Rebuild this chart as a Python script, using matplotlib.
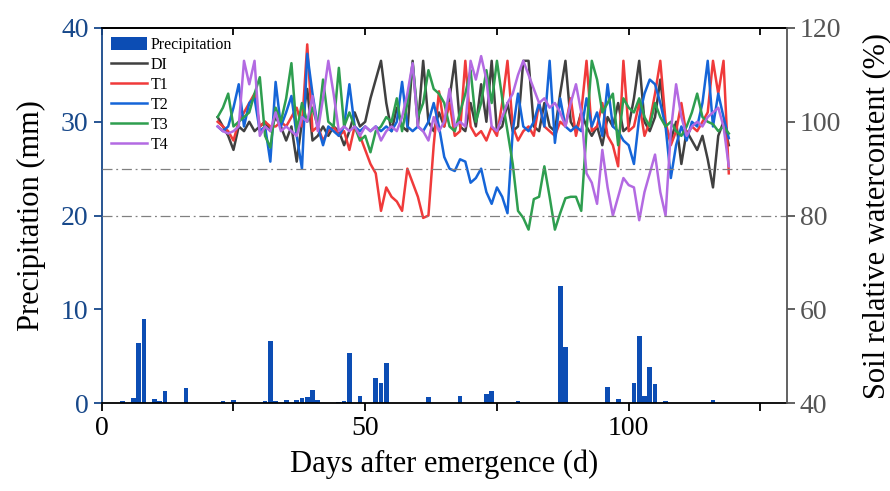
import numpy as np
import matplotlib
matplotlib.use('Agg')
import matplotlib.pyplot as plt

plt.rcParams['font.family'] = ['Liberation Serif', 'DejaVu Serif']

# precipitation bars (mm)
rain_days = [4, 6, 7, 8, 10, 11, 12, 16,
             23, 25, 31, 32, 33, 35, 37, 38, 39, 40, 41,
             45, 46, 47, 49, 52, 53, 54,
             62, 68, 73, 74, 79,
             87, 88, 96, 98,
             101, 102, 103, 104, 105, 107, 116]
rain_mm = [0.2, 0.5, 6.4, 9.0, 0.4, 0.2, 1.25, 1.6,
           0.25, 0.3, 0.2, 6.6, 0.2, 0.3, 0.3, 0.55, 0.65, 1.4, 0.3,
           0.1, 0.25, 5.3, 0.8, 2.7, 2.1, 4.3,
           0.6, 0.75, 1.0, 1.25, 0.2,
           12.5, 6.0, 1.75, 0.4,
           2.1, 7.2, 0.8, 3.8, 2.0, 0.2, 0.35]

# soil relative water content (%), days 22..119
days = np.arange(22, 120)
DI = [101, 99, 97, 94, 99, 98, 100, 98, 99, 100,
      98, 101, 99, 96, 99, 91.5, 100, 107, 96, 97,
      99, 97, 99, 98, 95, 98, 102, 99, 100, 105,
      109, 113, 104, 98, 103, 99, 98, 113, 99, 113,
      100, 98, 102, 99, 105, 113, 99, 98, 104, 99,
      108, 100, 113, 98, 99, 104, 98, 99, 113, 113,
      99, 98, 104, 99, 98, 106, 113, 100, 98, 102,
      99, 97, 99, 95, 101, 99, 104, 98, 99, 105,
      113, 100, 98, 101, 109, 99, 96, 100, 91, 98,
      96, 94, 97, 92, 86, 97, 100, 95]
T1 = [100, 99, 98, 96, 100, 102, 104, 106, 99, 100,
      99, 99, 100, 99, 101, 103, 99, 116.5, 98, 99,
      96, 98, 99, 97, 98, 94, 99, 97, 94, 91,
      89, 81, 86, 84, 83, 81, 90, 87, 84, 79.5,
      80, 95, 106.5, 99, 104, 97, 98, 113, 99, 97,
      98, 96, 99, 97, 104, 113, 99, 96, 98, 99,
      97, 104, 99, 98, 97, 100, 99, 105, 97, 102,
      113, 98, 99, 104, 97, 95, 90.5, 113, 98, 99,
      104, 97, 100, 106, 113, 100, 95, 98, 104, 97,
      99, 98, 100, 102, 113, 106, 113, 89]
T2 = [99, 98, 99, 103, 108, 99, 104, 105, 98, 99,
      91.5, 108.5, 99, 102, 105.5, 97, 90, 114.5, 106, 99,
      95, 99, 98, 97, 99, 108, 99, 98, 99, 98,
      99, 98, 99, 98, 100, 108.5, 99, 98, 99, 98,
      100, 104, 99, 92.5, 90, 89.5, 92, 91.5, 87, 88,
      90, 85, 82.5, 86, 84, 80.5, 98, 106, 99, 98,
      100, 104, 99, 113, 95.5, 105, 99, 98, 99, 98,
      105, 99, 102, 97, 108, 99, 98, 96, 95, 91,
      101, 106, 109, 108, 104, 99, 88, 95, 99, 96,
      100, 99, 104, 113, 99, 106, 101, 96.5]
T3 = [101, 103, 106, 99, 100, 101, 102, 106, 109.5, 97,
      94.5, 103, 100, 105, 112.5, 98, 104, 100, 103, 99,
      109, 100, 99, 111.5, 99, 102, 99, 96, 97, 93.5,
      98, 99, 101, 100, 105, 98, 104, 112.5, 101, 104,
      111, 107, 106, 104, 99, 98, 102, 106, 111, 100,
      104, 111, 104, 113, 105, 98, 91, 81, 79.5, 77,
      83.5, 84, 90.5, 84, 77, 80.5, 83.7, 84, 84, 81,
      98, 113, 109, 102, 104, 106, 95, 105, 103, 102,
      105, 101, 99, 104, 101, 99, 100, 98, 97, 99,
      102, 106, 101, 100, 99.5, 98, 99, 97.5]
T4 = [99, 98, 97.5, 98, 99, 113, 108, 113, 97, 99,
      98, 102, 98, 99, 98, 97, 101, 100, 105.5, 98,
      105, 113, 106, 98, 99, 98, 99, 97, 99, 98,
      99, 96, 98, 99, 98, 101, 106, 112.5, 99, 98,
      96, 101, 98, 100, 107, 99, 100, 99, 113, 109,
      114, 109, 99, 98, 101, 104, 106, 110, 113, 110,
      107, 104, 105, 103, 104, 102, 99, 104, 108, 102,
      89, 87, 82.5, 94, 86, 80, 84, 88, 86.5, 86,
      79, 85, 89, 93, 85, 80, 98, 108, 101, 97,
      99, 100, 99, 101, 102, 103, 99, 90.5]

series = [('DI', DI, '#404040'), ('T1', T1, '#f03a3a'), ('T2', T2, '#1565d8'),
          ('T3', T3, '#2e9e4f'), ('T4', T4, '#b36ae2')]

blue_ax = '#17488a'
gray_ax = '#555555'

fig = plt.figure(figsize=(8.9, 4.91), dpi=100)
ax1 = fig.add_axes([0.1143, 0.179, 0.7697, 0.764])
ax2 = ax1.twinx()

bars = ax1.bar(rain_days, rain_mm, width=0.9, color='#0c4db4', label='Precipitation')
ax1.set_xlim(0, 130)
ax1.set_ylim(0, 40)
ax1.set_yticks([0, 10, 20, 30, 40])
ax1.set_xticks([0, 50, 100])
ax1.set_xticks([25, 75, 125], minor=True)
ax1.set_xlabel('Days after emergence (d)', fontsize=22, labelpad=6)
ax1.set_ylabel('Precipitation (mm)', fontsize=22, labelpad=11)

lines = []
for name, vals, col in series:
    ln, = ax2.plot(days, vals, color=col, lw=1.8, label=name)
    lines.append(ln)
for lvl in [90, 80]:
    ax2.axhline(lvl, color='#808080', lw=0.9, ls=(0, (8, 3, 1.5, 3)))
ax2.set_ylim(40, 120)
ax2.set_yticks([40, 60, 80, 100, 120])
ax2.set_ylabel('Soil relative watercontent (%)', fontsize=22, labelpad=15)

# spines and ticks
ax1.spines['left'].set_color(blue_ax)
ax1.spines['right'].set_visible(False)
ax2.spines['left'].set_visible(False)
ax2.spines['top'].set_visible(False)
ax2.spines['bottom'].set_visible(False)
ax2.spines['right'].set_color(gray_ax)
for sp in ax1.spines.values():
    sp.set_linewidth(1.3)
ax2.spines['right'].set_linewidth(1.3)

ax1.tick_params(axis='x', which='both', direction='out', length=6, width=1.3,
                labelsize=20, top=False)
ax1.tick_params(axis='y', direction='out', length=6, width=1.3,
                color=blue_ax, labelcolor=blue_ax, labelsize=20)
ax2.tick_params(axis='y', direction='out', length=6, width=1.3,
                color=gray_ax, labelcolor=gray_ax, labelsize=20)

# inward ticks on the top spine
top = ax1.secondary_xaxis('top')
top.set_xticks([0, 25, 50, 75, 100, 125])
top.tick_params(direction='in', length=5, width=1.3, labeltop=False)
top.spines['top'].set_linewidth(1.3)

ax2.legend([bars] + lines, ['Precipitation'] + [s[0] for s in series],
           loc='upper left', frameon=False, fontsize=11.5, handlelength=2.3,
           handleheight=0.9, handletextpad=0.2, labelspacing=0.24,
           borderaxespad=0.15)

fig.savefig('out.png', dpi=100)
